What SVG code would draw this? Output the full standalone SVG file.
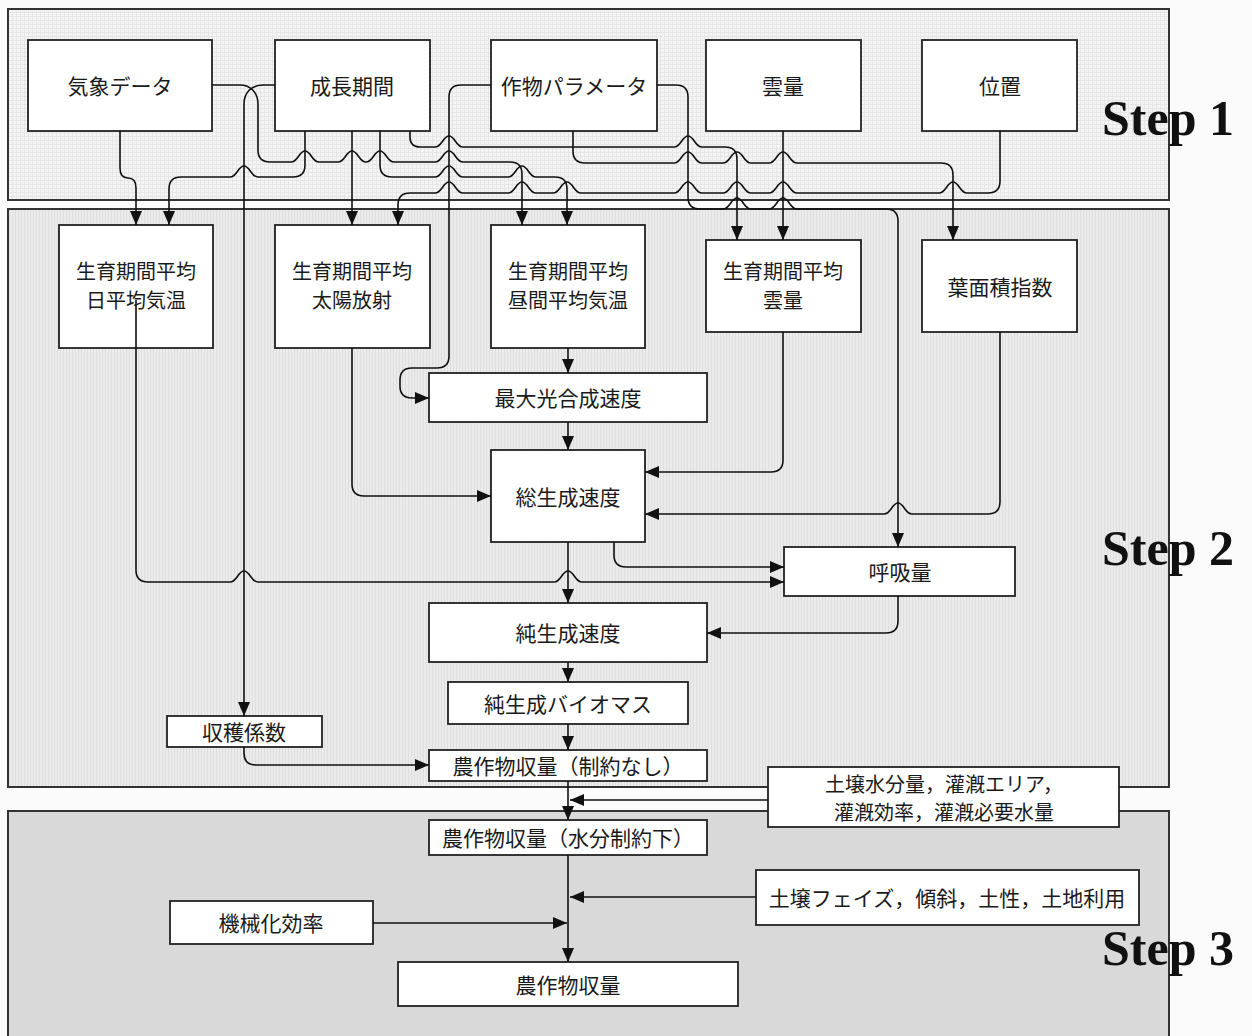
<svg xmlns="http://www.w3.org/2000/svg" width="1252" height="1036" viewBox="0 0 1252 1036">
<defs>
<pattern id="p1" width="4" height="4" patternUnits="userSpaceOnUse"><rect width="4" height="4" fill="#f4f4f4"/><path d="M0,0.5H4M0.5,0V4" stroke="#e6e6e6" stroke-width="1"/></pattern>
<pattern id="p2" width="3" height="3" patternUnits="userSpaceOnUse"><rect width="3" height="3" fill="#ebebeb"/><path d="M0.5,0V3" stroke="#dedede" stroke-width="1"/></pattern>
<marker id="ah" viewBox="0 0 14 12" refX="14" refY="6" markerWidth="14" markerHeight="12" orient="auto" markerUnits="userSpaceOnUse"><path d="M0,0 L14,6 L0,12 z" fill="#111"/></marker>
<style>
.panel{stroke:#333;stroke-width:2}
.box{fill:#fff;stroke:#222;stroke-width:1.8}
.t{font-family:"Noto Sans CJK JP","Noto Sans CJK SC",sans-serif;font-size:21px;fill:#1a1a1a;text-anchor:middle;dominant-baseline:central}
.t2{font-size:20px}
.step{font-family:"Liberation Serif",serif;font-weight:bold;font-size:50px;fill:#111}
.c{fill:none;stroke:#111;stroke-width:1.6}
.a{marker-end:url(#ah)}
</style>
</defs>
<rect width="1252" height="1036" fill="#fbfbfb"/>
<g id="panels">
<rect class="panel" x="8" y="9" width="1161" height="191" fill="url(#p1)"/>
<rect class="panel" x="8" y="209" width="1161" height="578" fill="url(#p2)"/>
<rect class="panel" x="8" y="811" width="1161" height="240" fill="#d9d9d9"/>
<text class="step" x="1102" y="135">Step 1</text>
<text class="step" x="1102" y="565">Step 2</text>
<text class="step" x="1102" y="965">Step 3</text>
</g>
<g id="n-kishou"><rect class="box" x="28" y="40" width="184" height="91"/><text class="t" x="120" y="85">気象データ</text></g>
<g id="n-seichou"><rect class="box" x="275" y="40" width="155" height="91"/><text class="t" x="352" y="85">成長期間</text></g>
<g id="n-sakumotsu"><rect class="box" x="491" y="40" width="166" height="91"/><text class="t" x="574" y="85">作物パラメータ</text></g>
<g id="n-unryou"><rect class="box" x="706" y="40" width="155" height="91"/><text class="t" x="783" y="85">雲量</text></g>
<g id="n-ichi"><rect class="box" x="922" y="40" width="155" height="91"/><text class="t" x="1000" y="85">位置</text></g>
<g id="n-kion"><rect class="box" x="59" y="225" width="154" height="123"/><text class="t t2" x="136" y="270">生育期間平均</text><text class="t t2" x="136" y="299">日平均気温</text></g>
<g id="n-taiyou"><rect class="box" x="275" y="225" width="155" height="123"/><text class="t t2" x="352" y="270">生育期間平均</text><text class="t t2" x="352" y="299">太陽放射</text></g>
<g id="n-chuukan"><rect class="box" x="491" y="225" width="154" height="123"/><text class="t t2" x="568" y="270">生育期間平均</text><text class="t t2" x="568" y="299">昼間平均気温</text></g>
<g id="n-unryou2"><rect class="box" x="706" y="240" width="155" height="92"/><text class="t t2" x="783" y="270">生育期間平均</text><text class="t t2" x="783" y="299">雲量</text></g>
<g id="n-youmen"><rect class="box" x="922" y="240" width="155" height="92"/><text class="t" x="1000" y="286">葉面積指数</text></g>
<g id="n-saidai"><rect class="box" x="429" y="373" width="278" height="49"/><text class="t" x="568" y="397">最大光合成速度</text></g>
<g id="n-sou"><rect class="box" x="491" y="450" width="154" height="92"/><text class="t" x="568" y="496">総生成速度</text></g>
<g id="n-kokyuu"><rect class="box" x="784" y="547" width="231" height="49"/><text class="t" x="900" y="571">呼吸量</text></g>
<g id="n-jun"><rect class="box" x="429" y="603" width="278" height="59"/><text class="t" x="568" y="632">純生成速度</text></g>
<g id="n-biomass"><rect class="box" x="448" y="682" width="240" height="42"/><text class="t" x="568" y="703">純生成バイオマス</text></g>
<g id="n-shuukaku"><rect class="box" x="167" y="716" width="155" height="31"/><text class="t" x="244" y="731">収穫係数</text></g>
<g id="n-yield1"><rect class="box" x="429" y="750" width="278" height="31"/><text class="t" x="568" y="765">農作物収量（制約なし）</text></g>
<g id="n-soil"><rect class="box" x="768" y="767" width="351" height="60"/><text class="t t2" x="944" y="783">土壌水分量，灌漑エリア，</text><text class="t t2" x="944" y="811">灌漑効率，灌漑必要水量</text></g>
<g id="n-yield2"><rect class="box" x="429" y="820" width="278" height="35"/><text class="t" x="568" y="837">農作物収量（水分制約下）</text></g>
<g id="n-soilphase"><rect class="box" x="756" y="870" width="383" height="55"/><text class="t" x="947" y="897">土壌フェイズ，傾斜，土性，土地利用</text></g>
<g id="n-kikai"><rect class="box" x="170" y="901" width="203" height="43"/><text class="t" x="271" y="922">機械化効率</text></g>
<g id="n-yield3"><rect class="box" x="398" y="962" width="340" height="44"/><text class="t" x="568" y="984">農作物収量</text></g>
<g id="connectors">
<path class="c a" d="M212,85 H240 C250,85 258,92 258,104 V150 Q258,162 270,162 H291 C298,162 299,151 305,151 C311,151 312,162 319,162 H338 C345,162 346,151 352,151 C358,151 359,162 366,162 C373,162 374,151 380,151 C386,151 387,162 394,162 H435 C442,162 443,151 449,151 C455,151 456,162 463,162 H510 Q522,162 522,174 V225"/>
<path class="c a" d="M275,85 H263 C252,85 244,92 244,104 V716"/>
<path class="c a" d="M305,131 V165 Q305,177 293,177 H258 C251,177 250,166 244,166 C238,166 237,177 230,177 H181 Q169,177 169,189 V225"/>
<path class="c a" d="M120,131 V168 Q120,178 128,178 Q136,178 136,188 V225"/>
<path class="c a" d="M352,131 V225"/>
<path class="c a" d="M380,131 V165 Q380,177 392,177 H435 C442,177 443,166 449,166 C455,166 456,177 463,177 H508 C515,177 516,166 522,166 C528,166 529,177 536,177 H555 Q567,177 567,189 V225"/>
<path class="c a" d="M410,131 V137 Q410,147 420,147 H435 C442,147 443,136 449,136 C455,136 456,147 463,147 H674 C681,147 682,136 688,136 C694,136 695,147 702,147 H725 Q737,147 737,159 V240"/>
<path class="c a" d="M491,85 H461 Q449,85 449,97 V356 Q449,368 437,368 H412 Q400,368 400,380 V386 Q400,398 412,398 H429"/>
<path class="c a" d="M573,131 V151 Q573,163 585,163 H674 C681,163 682,152 688,152 C694,152 695,163 702,163 H723 C730,163 731,152 737,152 C743,152 744,163 751,163 H769 C776,163 777,152 783,152 C789,152 790,163 797,163 H941 Q953,163 953,175 V240"/>
<path class="c a" d="M657,85 H676 Q688,85 688,97 V197 Q688,209 700,209 H723 C730,209 731,198 737,198 C743,198 744,209 751,209 H769 C776,209 777,198 783,198 C789,198 790,209 797,209 H886 Q898,209 898,221 V547"/>
<path class="c a" d="M783,131 V240"/>
<path class="c a" d="M1000,131 V181 Q1000,193 988,193 H967 C960,193 959,182 953,182 C947,182 946,193 939,193 H797 C790,193 789,182 783,182 C777,182 776,193 769,193 H751 C744,193 743,182 737,182 C731,182 730,193 723,193 H702 C695,193 694,182 688,182 C682,182 681,193 674,193 H581 C574,193 573,182 567,182 C561,182 560,193 553,193 H536 C529,193 528,182 522,182 C516,182 515,193 508,193 H463 C456,193 455,182 449,182 C443,182 442,193 435,193 H410 Q398,193 398,205 V225"/>
<path class="c a" d="M568,348 V373"/>
<path class="c a" d="M568,422 V450"/>
<path class="c a" d="M352,348 V484 Q352,496 364,496 H491"/>
<path class="c a" d="M783,332 V460 Q783,472 771,472 H645"/>
<path class="c a" d="M1000,332 V502 Q1000,514 988,514 H912 C905,514 904,503 898,503 C892,503 891,514 884,514 H645"/>
<path class="c a" d="M568,542 V603"/>
<path class="c a" d="M614,542 V555 Q614,567 626,567 H784"/>
<path class="c a" d="M136,300 V570 Q136,582 148,582 H230 C237,582 238,571 244,571 C250,571 251,582 258,582 H554 C561,582 562,571 568,571 C574,571 575,582 582,582 H784"/>
<path class="c a" d="M898,596 V621 Q898,633 886,633 H707"/>
<path class="c a" d="M568,662 V682"/>
<path class="c a" d="M568,724 V750"/>
<path class="c a" d="M244,747 V753 Q244,765 256,765 H429"/>
<path class="c a" d="M568,781 V820"/>
<path class="c a" d="M768,800 H570"/>
<path class="c a" d="M568,855 V962"/>
<path class="c a" d="M756,897 H570"/>
<path class="c a" d="M373,923 H567"/>
</g>
</svg>
